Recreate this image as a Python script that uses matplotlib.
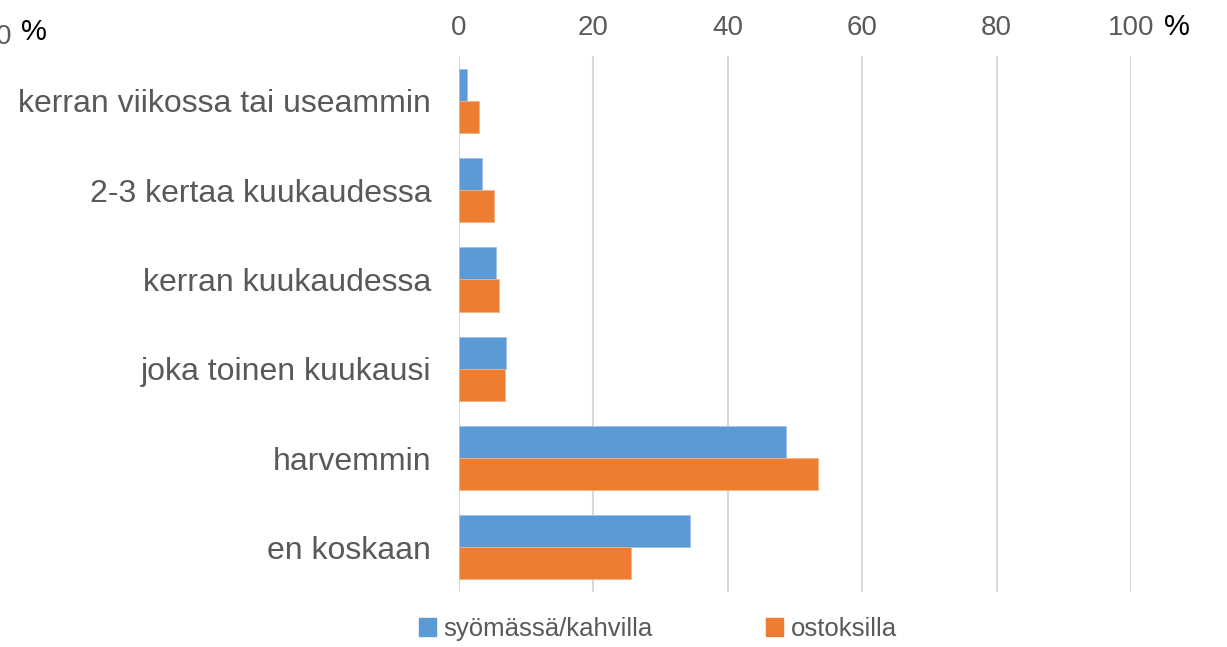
import numpy as np
import matplotlib.pyplot as plt

plt.rcParams['font.family'] = ['Liberation Sans', 'DejaVu Sans']

categories = ['kerran viikossa tai useammin', '2-3 kertaa kuukaudessa',
              'kerran kuukaudessa', 'joka toinen kuukausi', 'harvemmin', 'en koskaan']
syomassa = [1.2, 3.4, 5.5, 7.0, 48.7, 34.4]
ostoksilla = [3.0, 5.2, 6.0, 6.8, 53.4, 25.6]
xticks = [0, 20, 40, 60, 80, 100]
series_names = ['syömässä/kahvilla', 'ostoksilla']

blue = '#5B9BD5'
orange = '#ED7D31'
gray = '#595959'

fig = plt.figure(figsize=(12.27, 6.47), dpi=100)
ax = fig.add_axes([0.3741, 0.085, 0.5477, 0.8284])

y = np.arange(len(categories))
h = 0.36
ax.barh(y - h / 2, syomassa, h, color=blue, edgecolor='#9DC3E6', linewidth=0.6, zorder=3)
ax.barh(y + h / 2, ostoksilla, h, color=orange, edgecolor='#F4B183', linewidth=0.6, zorder=3)

ax.set_xlim(0, 100)
ax.set_ylim(len(categories) - 0.5, -0.5)
ax.set_xticks(xticks)
ax.xaxis.tick_top()
ax.tick_params(axis='x', length=0, pad=11, labelsize=20, labelcolor=gray)
ax.set_yticks(y)
ax.set_yticklabels(categories)
ax.tick_params(axis='y', length=0, pad=20, labelsize=23, labelcolor=gray)
ax.grid(axis='x', color='#D9D9D9', linewidth=1.5, zorder=0)
for s in ax.spines.values():
    s.set_visible(False)

# stray axis unit labels (the left "0" is cut by the edge, as in the original)
fig.text(1177 / 1227, 1 - 27 / 647, '%', fontsize=21, color='black', ha='center', va='center')
fig.text(11 / 1227, 1 - 37 / 647, '0', fontsize=20, color=gray, ha='right', va='center')
fig.text(34 / 1227, 1 - 32 / 647, '%', fontsize=21, color='black', ha='center', va='center')

# legend
handles = [plt.Rectangle((0, 0), 1, 1, color=blue), plt.Rectangle((0, 0), 1, 1, color=orange)]
fig.legend(handles, series_names, loc='center', bbox_to_anchor=(658 / 1227, 1 - 629 / 647),
           ncol=2, frameon=False, fontsize=18.5, handlelength=0.65, handleheight=0.65,
           handletextpad=0.3, columnspacing=4.4, labelcolor=gray)

fig.savefig('out.png', dpi=100)
